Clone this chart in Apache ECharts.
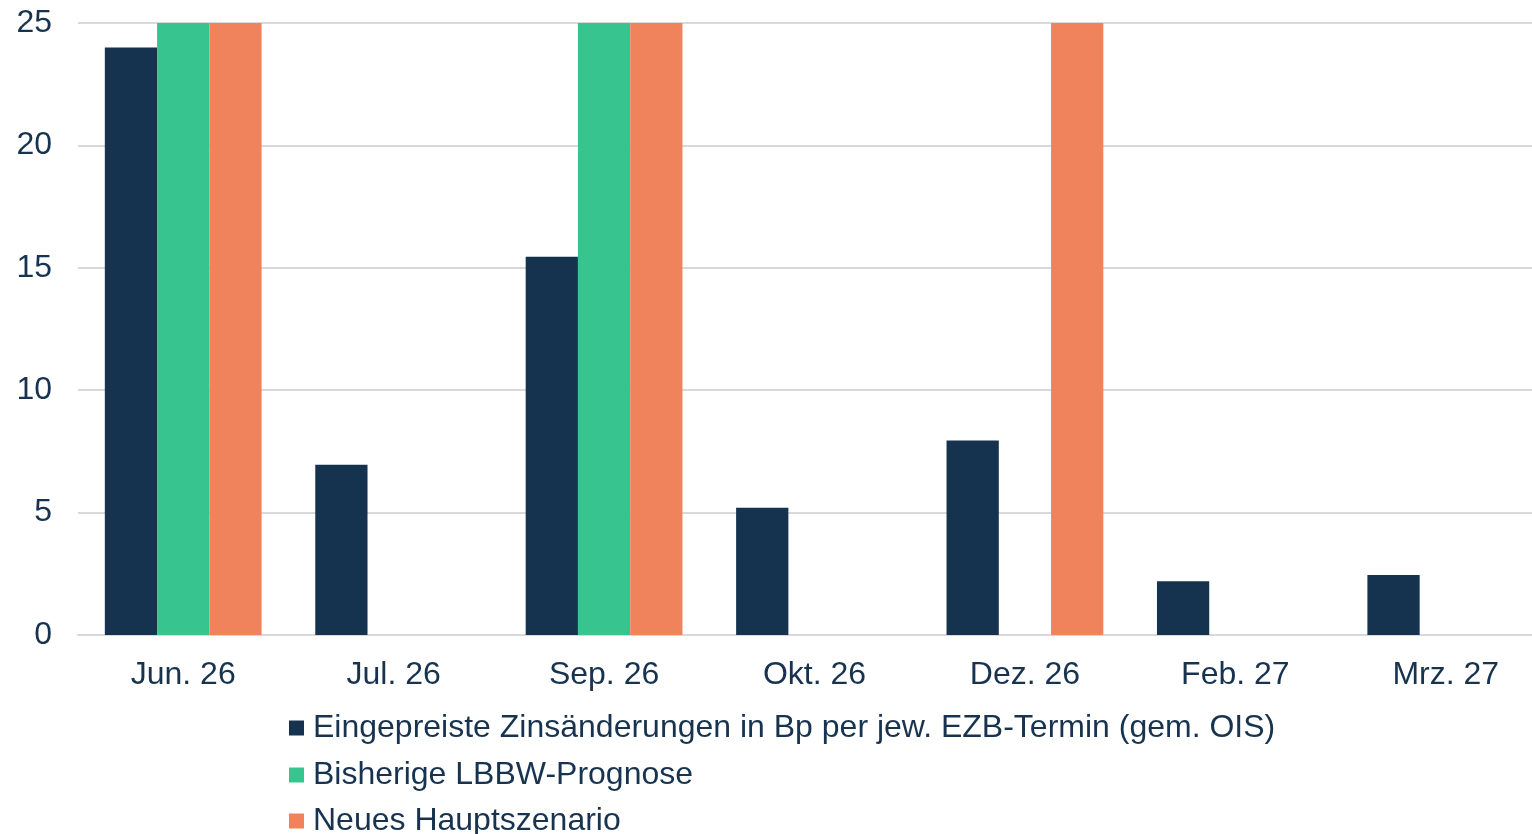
<!DOCTYPE html>
<html>
<head>
<meta charset="utf-8">
<script src="https://cdn.jsdelivr.net/npm/echarts@6/dist/echarts.min.js"></script>
<style>
  html, body { margin: 0; padding: 0; background: #fff; }
  #chart { width: 1532px; height: 834px; }
</style>
</head>
<body>
<div id="chart"></div>
<script>
// Daten
var categories = ["Jun. 26", "Jul. 26", "Sep. 26", "Okt. 26", "Dez. 26", "Feb. 27", "Mrz. 27"];
var seriesNames = [
  "Eingepreiste Zinsänderungen in Bp per jew. EZB-Termin (gem. OIS)",
  "Bisherige LBBW-Prognose",
  "Neues Hauptszenario"
];
var oisValues = [24.0, 6.95, 15.45, 5.2, 7.95, 2.2, 2.45];
var prognoseValues = [25, null, 25, null, null, null, null];
var hauptValues = [25, null, 25, null, 25, null, null];
var yTicks = [0, 5, 10, 15, 20, 25];

var textColor = "#17334f";
var colors = ["#15324f", "#38c48f", "#f0835b"];

// eine Legende pro Zeile, damit nichts umbricht
var legendTops = [705, 752, 798];
var legends = seriesNames.map(function (name, i) {
  return {
    orient: "vertical",
    left: 284,
    top: legendTops[i],
    itemWidth: 15,
    itemHeight: 15,
    icon: "rect",
    textStyle: { fontSize: 32, lineHeight: 36, color: textColor, padding: [0, 0, 0, 4] },
    data: [name]
  };
});

var myChart = echarts.init(document.getElementById("chart"));
myChart.setOption({
  animation: false,
  color: colors,
  textStyle: { fontFamily: "Liberation Sans, Arial, sans-serif" },
  // Plotfläche ragt rechts über den Rand hinaus (wie im Original abgeschnitten)
  grid: { left: 78, right: -19, top: 23, bottom: 199, outerBoundsMode: "none" },
  legend: legends,
  xAxis: {
    type: "category",
    data: categories,
    axisLine: { show: true, lineStyle: { color: "#d9d9d9", width: 2 } },
    axisTick: { show: false },
    axisLabel: { color: textColor, fontSize: 32, margin: 24 }
  },
  yAxis: {
    type: "value",
    min: yTicks[0],
    max: yTicks[yTicks.length - 1],
    interval: 5,
    axisLine: { show: false },
    axisTick: { show: false },
    splitLine: { lineStyle: { color: "#d9d9d9", width: 2 } },
    axisLabel: { color: textColor, fontSize: 32, margin: 26 }
  },
  series: [
    { name: seriesNames[0], type: "bar", data: oisValues, barGap: "0%", barCategoryGap: "25.5%" },
    { name: seriesNames[1], type: "bar", data: prognoseValues, barGap: "0%", barCategoryGap: "25.5%" },
    { name: seriesNames[2], type: "bar", data: hauptValues, barGap: "0%", barCategoryGap: "25.5%" }
  ]
});
</script>
</body>
</html>
